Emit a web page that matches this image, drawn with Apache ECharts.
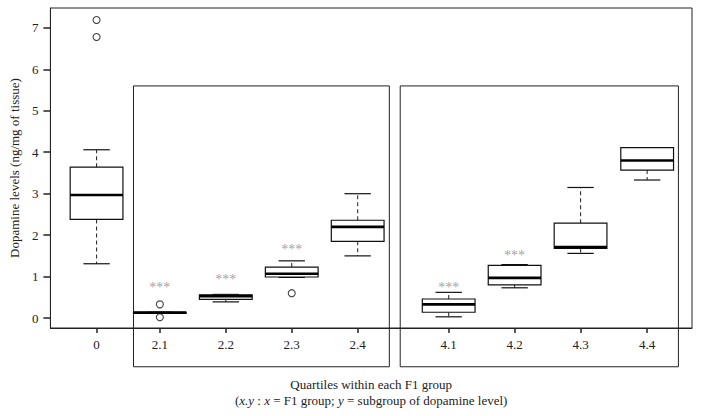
<!DOCTYPE html>
<html>
<head>
<meta charset="utf-8">
<script src="https://cdn.jsdelivr.net/npm/echarts@6/dist/echarts.min.js"></script>
<style>html,body{margin:0;padding:0;background:#fff}#c{width:701px;height:416px}</style>
</head>
<body>
<div id="c"></div>
<script>
// ---- data ----
const categories   = ['0', '2.1', '2.2', '2.3', '2.4', '4.1', '4.2', '4.3', '4.4'];
const xPositions   = [1.04, 2, 3, 4, 5, 6.38, 7.38, 8.38, 9.39];
const lowerWhisker = [1.31, 0.12, 0.39, 0.98, 1.50, 0.03, 0.73, 1.56, 3.33];
const q1           = [2.38, 0.12, 0.45, 0.99, 1.85, 0.14, 0.80, 1.68, 3.57];
const median       = [2.97, 0.13, 0.53, 1.07, 2.20, 0.33, 0.97, 1.71, 3.80];
const q3           = [3.64, 0.14, 0.56, 1.23, 2.36, 0.46, 1.27, 2.29, 4.11];
const upperWhisker = [4.06, 0.14, 0.57, 1.38, 3.00, 0.62, 1.29, 3.15, 4.11];
const outlierGroup = [0, 0, 1, 1, 3];
const outlierValue = [7.19, 6.78, 0.33, 0.02, 0.60];
const starGroup    = [1, 2, 3, 5, 6];
const starValue    = [0.74, 0.93, 1.66, 0.74, 1.50];
const yTicks       = [0, 1, 2, 3, 4, 5, 6, 7];
// group panels: [xStart, xEnd, yBottom, yTop] in axis units
const panels       = [[1.6, 5.48, -1.175, 5.60], [5.645, 9.864, -1.175, 5.60]];

const FONT = 'Liberation Serif';
const boxData = categories.map((c, i) => [xPositions[i], lowerWhisker[i], q1[i], median[i], q3[i], upperWhisker[i]]);
const outlierData = outlierGroup.map((g, i) => [xPositions[g], outlierValue[i]]);
const starData = starGroup.map((g, i) => [xPositions[g], starValue[i]]);

function renderBox(params, api) {
  const x = api.value(0), lw = api.value(1), b1 = api.value(2), md = api.value(3), b3 = api.value(4), uw = api.value(5);
  const hb = 0.4, hc = 0.2;
  const tl = api.coord([x - hb, b3]), br = api.coord([x + hb, b1]);
  const pt = (a, b) => api.coord([a, b]);
  const ls = { stroke: '#111', lineWidth: 1.2, fill: null };
  const dash = { stroke: '#333', lineWidth: 1.1, lineDash: [4, 3], fill: null };
  const children = [];
  if (uw > b3 + 1e-9) {
    const a = pt(x, b3), b = pt(x, uw);
    children.push({ type: 'line', shape: { x1: a[0], y1: a[1], x2: b[0], y2: b[1] }, style: dash });
  }
  if (lw < b1 - 1e-9) {
    const a = pt(x, b1), b = pt(x, lw);
    children.push({ type: 'line', shape: { x1: a[0], y1: a[1], x2: b[0], y2: b[1] }, style: dash });
  }
  const cu1 = pt(x - hc, uw), cu2 = pt(x + hc, uw);
  children.push({ type: 'line', shape: { x1: cu1[0], y1: cu1[1], x2: cu2[0], y2: cu2[1] }, style: ls });
  const cl1 = pt(x - hc, lw), cl2 = pt(x + hc, lw);
  children.push({ type: 'line', shape: { x1: cl1[0], y1: cl1[1], x2: cl2[0], y2: cl2[1] }, style: ls });
  children.push({ type: 'rect', shape: { x: tl[0], y: tl[1], width: br[0] - tl[0], height: br[1] - tl[1] }, style: { stroke: '#111', lineWidth: 1.2, fill: '#fff' } });
  const m1 = pt(x - hb, md), m2 = pt(x + hb, md);
  children.push({ type: 'line', shape: { x1: m1[0], y1: m1[1], x2: m2[0], y2: m2[1] }, style: { stroke: '#000', lineWidth: 2.6 } });
  return { type: 'group', children };
}

function renderPanel(params, api) {
  const a = api.coord([api.value(0), api.value(3)]);
  const b = api.coord([api.value(1), api.value(2)]);
  return { type: 'rect', shape: { x: a[0], y: a[1], width: b[0] - a[0], height: b[1] - a[1] }, style: { stroke: '#222', lineWidth: 1, fill: null } };
}

const chart = echarts.init(document.getElementById('c'), null, { renderer: 'svg' });
chart.setOption({
  animation: false,
  backgroundColor: '#fff',
  textStyle: { fontFamily: FONT },
  grid: { left: 48, right: 9, top: 8, bottom: 88, show: true, borderColor: '#222', borderWidth: 1, backgroundColor: 'transparent' },
  xAxis: {
    type: 'value', min: 0.34, max: 10.07,
    splitLine: { show: false },
    axisLine: { onZero: false, lineStyle: { color: '#222', width: 1 } },
    axisTick: { customValues: xPositions, length: 5, lineStyle: { color: '#222', width: 1.5 } },
    axisLabel: {
      customValues: xPositions, margin: 10, color: '#222', fontFamily: FONT, fontSize: 13,
      formatter: v => { const i = xPositions.findIndex(p => Math.abs(p - v) < 1e-6); return i >= 0 ? categories[i] : ''; }
    },
    name: '{a|Quartiles within each F1 group}\n{b|(}{i|x.y}{b| : }{i|x}{b| = F1 group; }{i|y}{b| = subgroup of dopamine level)}',
    nameLocation: 'middle', nameGap: 48,
    nameTextStyle: {
      color: '#222', fontFamily: FONT, fontSize: 13, lineHeight: 16,
      rich: {
        a: { fontFamily: FONT, fontSize: 13, color: '#222', lineHeight: 16 },
        b: { fontFamily: FONT, fontSize: 13, color: '#222', lineHeight: 16 },
        i: { fontFamily: FONT, fontSize: 13, color: '#222', fontStyle: 'italic', lineHeight: 16 }
      }
    }
  },
  yAxis: {
    type: 'value', min: -0.24, max: 7.48,
    splitLine: { show: false },
    axisLine: { show: true, onZero: false, lineStyle: { color: '#222', width: 1 } },
    axisTick: { show: true, customValues: yTicks, length: 7, lineStyle: { color: '#222', width: 1.5 } },
    axisLabel: { customValues: yTicks, margin: 12, color: '#222', fontFamily: FONT, fontSize: 13 },
    name: 'Dopamine levels (ng/mg of tissue)',
    nameLocation: 'middle', nameGap: 26,
    nameTextStyle: { color: '#222', fontFamily: FONT, fontSize: 13 }
  },
  series: [
    { type: 'custom', name: 'panels', data: panels, renderItem: renderPanel, clip: false, silent: true, z: 1,
      encode: { x: [0, 1], y: [2, 3] } },
    { type: 'custom', name: 'boxes', data: boxData, renderItem: renderBox, z: 3,
      encode: { x: 0, y: [1, 2, 3, 4, 5] } },
    { type: 'scatter', name: 'outliers', data: outlierData, symbol: 'circle', symbolSize: 7, z: 4,
      itemStyle: { color: 'rgba(255,255,255,0)', borderColor: '#111', borderWidth: 1.1 } },
    { type: 'scatter', name: 'stars', data: starData, symbolSize: 0, z: 4,
      label: { show: true, position: 'inside', formatter: '***', color: '#8a8a8a', fontFamily: FONT, fontSize: 14 } }
  ]
});
</script>
</body>
</html>
